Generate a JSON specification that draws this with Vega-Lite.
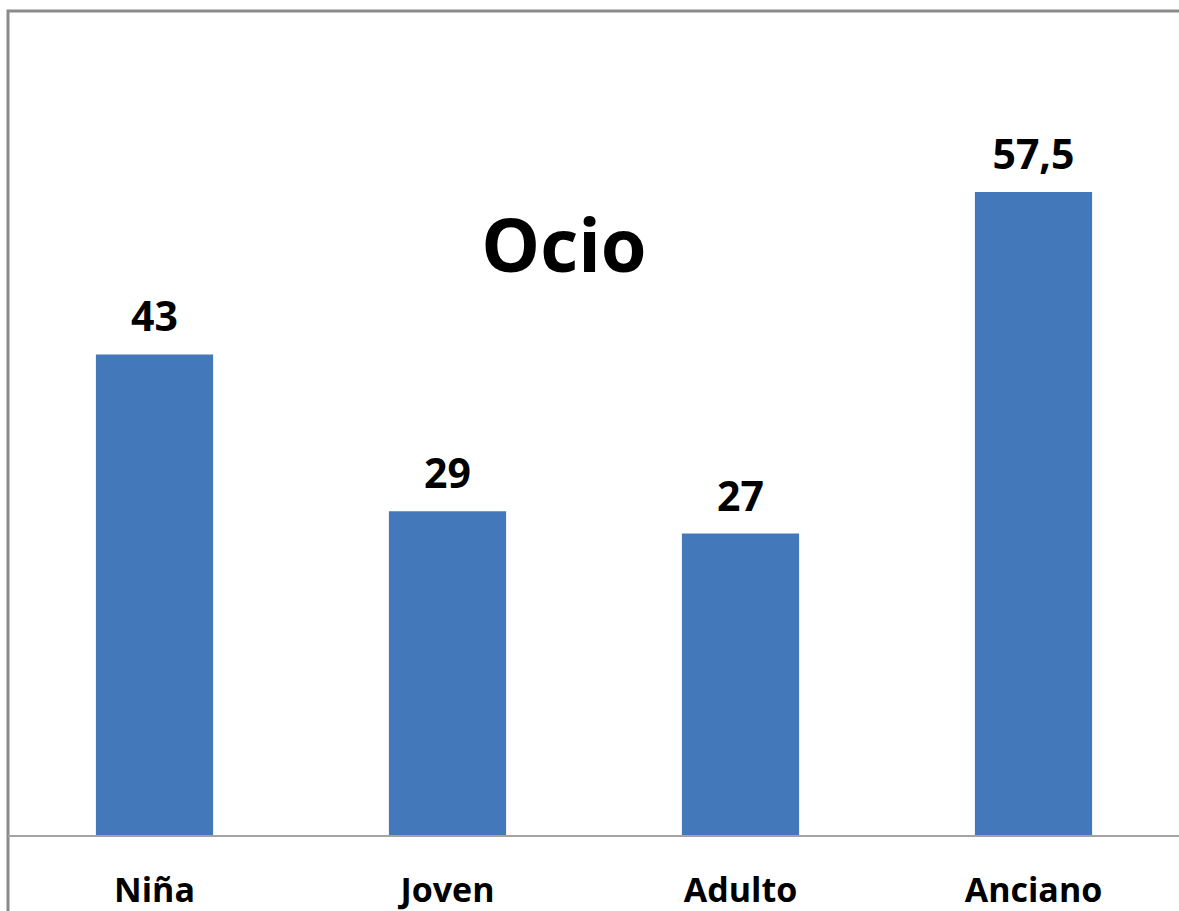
{
  "$schema": "https://vega.github.io/schema/vega-lite/v6.json",
  "autosize": "none",
  "width": 1190,
  "height": 920,
  "padding": {"left": 8, "top": 11, "right": 0, "bottom": 0},
  "background": "white",
  "config": {
    "view": {"stroke": "#8a8a8a", "strokeWidth": 3},
    "font": "Open Sans"
  },
  "title": {
    "text": "Ocio",
    "font": "Open Sans",
    "fontSize": 74,
    "fontWeight": "bold",
    "color": "#000000",
    "anchor": "middle",
    "baseline": "alphabetic",
    "offset": 0,
    "dx": -39,
    "dy": 335
  },
  "data": {
    "values": [
      {"categoria": "Niña", "valor": 43, "etiqueta": "43"},
      {"categoria": "Joven", "valor": 29, "etiqueta": "29"},
      {"categoria": "Adulto", "valor": 27, "etiqueta": "27"},
      {"categoria": "Anciano", "valor": 57.5, "etiqueta": "57,5"}
    ]
  },
  "encoding": {
    "x": {
      "field": "categoria",
      "type": "nominal",
      "sort": null,
      "axis": null,
      "scale": {"range": [0, 1172], "paddingInner": 0.6, "paddingOuter": 0.3}
    }
  },
  "layer": [
    {
      "mark": {"type": "bar", "color": "#4379ba"},
      "encoding": {
        "y": {
          "field": "valor",
          "type": "quantitative",
          "axis": null,
          "scale": {"domain": [0, 70], "range": [825, 41], "nice": false, "zero": true}
        }
      }
    },
    {
      "mark": {"type": "rule", "color": "#a3a3a3", "strokeWidth": 1.5},
      "encoding": {
        "x": {"value": 0},
        "x2": {"value": 1190},
        "y": {"datum": 0, "type": "quantitative"}
      }
    },
    {
      "mark": {"type": "text", "font": "Open Sans", "fontSize": 41, "fontWeight": "bold", "color": "#000000", "baseline": "alphabetic", "dy": -23},
      "encoding": {
        "y": {"field": "valor", "type": "quantitative"},
        "text": {"field": "etiqueta"}
      }
    },
    {
      "mark": {"type": "text", "font": "Open Sans", "fontSize": 34, "fontWeight": "bold", "color": "#000000", "baseline": "alphabetic", "dy": 66},
      "encoding": {
        "y": {"datum": 0, "type": "quantitative"},
        "text": {"field": "categoria"}
      }
    }
  ]
}
